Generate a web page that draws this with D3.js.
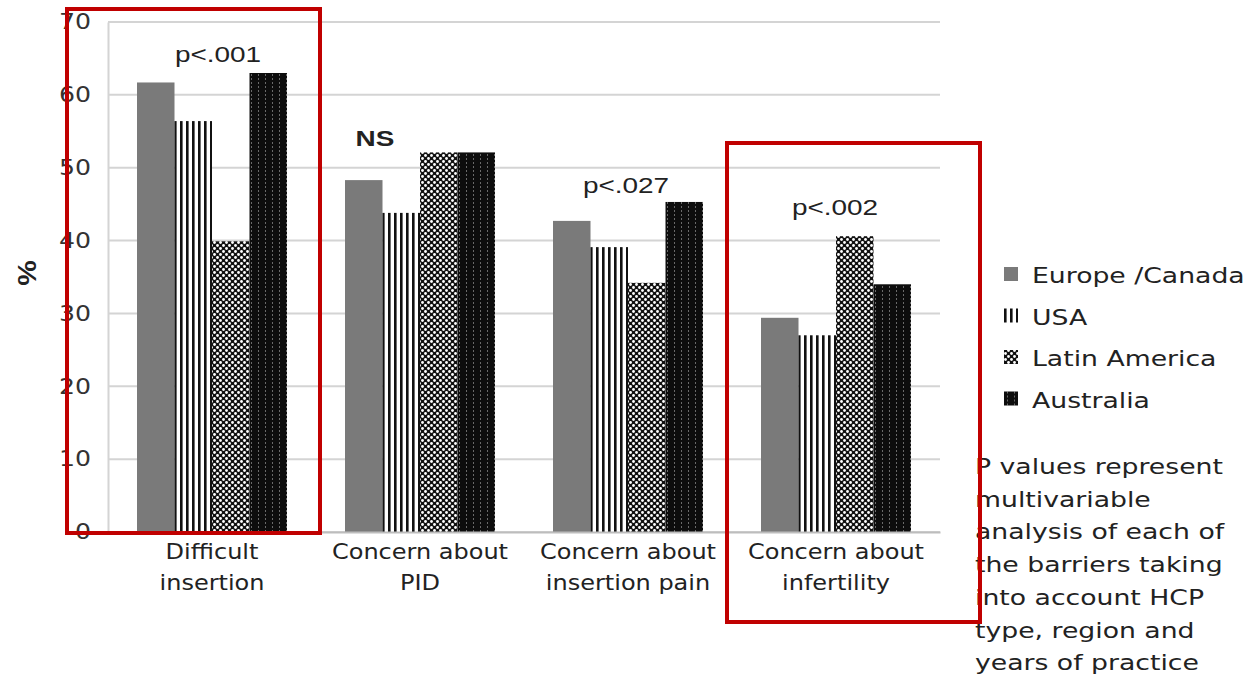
<!DOCTYPE html>
<html>
<head>
<meta charset="utf-8">
<script src="https://cdn.jsdelivr.net/npm/d3@7"></script>
<style>
  body { margin: 0; background: #fff; }
  svg { display: block; }
</style>
</head>
<body>
<svg id="chart" width="1249" height="677"></svg>
<script>
// data
var categories = [["Difficult", "insertion"], ["Concern about", "PID"], ["Concern about", "insertion pain"], ["Concern about", "infertility"]];
var regions = ["Europe /Canada", "USA", "Latin America", "Australia"];
var europe = [61.7, 48.3, 42.7, 29.4];
var usa = [56.4, 43.8, 39.1, 27.0];
var latin = [39.9, 52.1, 34.2, 40.6];
var australia = [63.0, 52.1, 45.3, 34.0];
var pLabels = ["p<.001", "NS", "p<.027", "p<.002"];
var yTicks = [0, 10, 20, 30, 40, 50, 60, 70];
var note = ["P values represent", "multivariable", "analysis of each of", "the barriers taking", "into account HCP", "type, region and", "years of practice"];

var series = [europe, usa, latin, australia];

// the source picture is stretched sideways, so text gets a horizontal scale
var SX = 1.27;

var svg = d3.select("#chart");
var margin = { top: 22, left: 108, right: 309, bottom: 145 };
var width = 1249 - margin.left - margin.right,
    height = 677 - margin.top - margin.bottom;

// patterns
var defs = svg.append("defs");

var pUsa = defs.append("pattern").attr("id", "pat-usa")
    .attr("patternUnits", "userSpaceOnUse").attr("width", 6).attr("height", 6);
pUsa.append("rect").attr("width", 6).attr("height", 6).attr("fill", "#fff");
pUsa.append("rect").attr("x", 0).attr("width", 2.6).attr("height", 6).attr("fill", "#111");

var pLat = defs.append("pattern").attr("id", "pat-lat")
    .attr("patternUnits", "userSpaceOnUse").attr("width", 6).attr("height", 6);
pLat.append("rect").attr("width", 6).attr("height", 6).attr("fill", "#111");
pLat.append("circle").attr("cx", 1.5).attr("cy", 1.5).attr("r", 1.4).attr("fill", "#fff");
pLat.append("circle").attr("cx", 4.5).attr("cy", 4.5).attr("r", 1.4).attr("fill", "#fff");

var pAus = defs.append("pattern").attr("id", "pat-aus")
    .attr("patternUnits", "userSpaceOnUse").attr("width", 7).attr("height", 4);
pAus.append("rect").attr("width", 7).attr("height", 4).attr("fill", "#0d0d0d");
pAus.append("rect").attr("x", 3).attr("y", 0).attr("width", 1).attr("height", 2).attr("fill", "#6a6a6a");

var fills = ["#7a7a7a", "url(#pat-usa)", "url(#pat-lat)", "url(#pat-aus)"];

function wideText(parent, x0, y0, txt, anchor, size, family, weight) {
    return parent.append("text")
        .attr("transform", "translate(" + x0 + "," + y0 + ") scale(" + SX + ",1)")
        .attr("text-anchor", anchor || "start")
        .attr("font-family", family || "DejaVu Sans")
        .attr("font-weight", weight || "normal")
        .attr("font-size", size)
        .attr("fill", "#222")
        .text(txt);
}

var g = svg.append("g").attr("transform", "translate(" + margin.left + "," + margin.top + ")");

var x = d3.scaleBand().domain(d3.range(categories.length)).range([0, width]).paddingInner(0).paddingOuter(0);
var xInner = d3.scaleBand().domain(d3.range(regions.length)).range([29, x.bandwidth() - 29]);
var y = d3.scaleLinear().domain([0, 70]).range([height, 0]);

// gridlines
g.append("g").selectAll("line").data(yTicks).enter().append("line")
    .attr("x1", 0).attr("x2", width)
    .attr("y1", function (d) { return y(d); }).attr("y2", function (d) { return y(d); })
    .attr("stroke", "#d4d4d4").attr("stroke-width", 2);

// y axis
var yAxis = g.append("g").call(d3.axisLeft(y).tickValues(yTicks).tickSize(0).tickPadding(0));
yAxis.select(".domain").attr("stroke", "#d4d4d4").attr("stroke-width", 2);
yAxis.selectAll("text")
    .attr("x", 0)
    .attr("transform", "translate(-17,0) scale(1.2,1)")
    .attr("font-family", "DejaVu Sans").attr("font-size", 21).attr("fill", "#333");

svg.append("text").attr("transform", "translate(36,273) rotate(-90) scale(1.1,1)")
    .attr("text-anchor", "middle").attr("font-family", "Liberation Sans")
    .attr("font-weight", "bold").attr("font-size", 26).attr("fill", "#222").text("%");

// bars
var groups = g.selectAll(".grp").data(categories).enter().append("g")
    .attr("class", "grp")
    .attr("transform", function (d, i) { return "translate(" + x(i) + ",0)"; });

groups.selectAll("rect").data(function (d, i) { return series.map(function (s) { return s[i]; }); })
    .enter().append("rect")
    .attr("x", function (d, j) { return xInner(j); })
    .attr("width", xInner.bandwidth())
    .attr("y", function (d) { return y(d); })
    .attr("height", function (d) { return height - y(d); })
    .attr("fill", function (d, j) { return fills[j]; });

// x axis
var xAxis = g.append("g").attr("transform", "translate(0," + height + ")")
    .call(d3.axisBottom(x).tickSize(0).tickFormat(""));
xAxis.select(".domain").attr("stroke", "#bdbdbd").attr("stroke-width", 2);

groups.each(function (d) {
    var grp = d3.select(this);
    d.forEach(function (line, k) {
        wideText(grp, x.bandwidth() / 2, height + 27 + k * 31, line, "middle", 21, "DejaVu Sans Condensed");
    });
});

// p value labels
var pPos = [[218, 62], [375, 146], [626, 193], [835, 215]];
pLabels.forEach(function (p, i) {
    wideText(svg, pPos[i][0], pPos[i][1], p, "middle", 22, "Liberation Sans", p == "NS" ? "bold" : "normal");
});

// legend
var legend = svg.append("g").attr("transform", "translate(1004,275)");
regions.forEach(function (r, i) {
    var row = legend.append("g").attr("transform", "translate(0," + i * 41.5 + ")");
    row.append("rect").attr("x", 0).attr("y", -8).attr("width", 14).attr("height", 14).attr("fill", fills[i]);
    wideText(row, 28, 8, r, "start", 21);
});

// note
note.forEach(function (line, k) {
    wideText(svg, 975, 474 + k * 32.7, line, "start", 21);
});

// red highlight boxes
svg.append("rect").attr("x", 67).attr("y", 9).attr("width", 253).attr("height", 524)
    .attr("fill", "none").attr("stroke", "#c00000").attr("stroke-width", 4);
svg.append("rect").attr("x", 727).attr("y", 143).attr("width", 253).attr("height", 479)
    .attr("fill", "none").attr("stroke", "#c00000").attr("stroke-width", 4);
</script>
</body>
</html>
